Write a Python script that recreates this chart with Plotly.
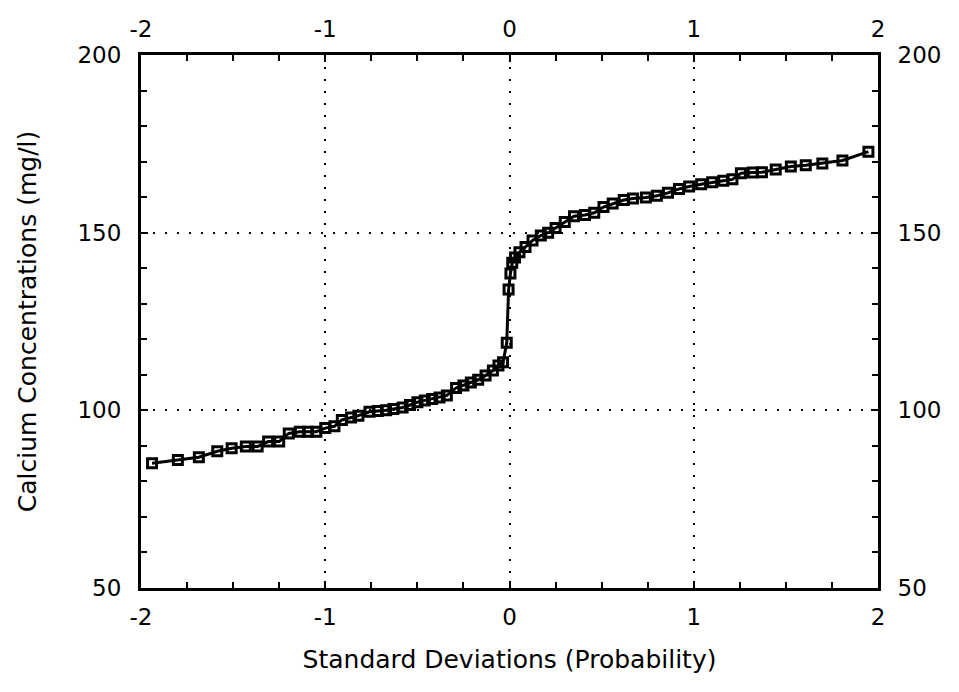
import plotly.graph_objects as go

std_dev = [-1.94, -1.80, -1.686, -1.586, -1.508, -1.431, -1.367, -1.31, -1.25, -1.198,
           -1.138, -1.093, -1.048, -1.0, -0.95, -0.91, -0.86, -0.82, -0.76, -0.715,
           -0.67, -0.63, -0.58, -0.54, -0.50, -0.46, -0.42, -0.38, -0.34, -0.29,
           -0.25, -0.21, -0.17, -0.13, -0.09, -0.06, -0.035, -0.015, -0.005, 0.005,
           0.015, 0.03, 0.054, 0.087, 0.125, 0.17, 0.21, 0.25, 0.30, 0.35,
           0.41, 0.46, 0.51, 0.56, 0.62, 0.67, 0.74, 0.80, 0.86, 0.92,
           0.975, 1.04, 1.10, 1.16, 1.21, 1.256, 1.32, 1.37, 1.445, 1.527,
           1.608, 1.698, 1.807, 1.948]
calcium = [85.1, 86.0, 86.8, 88.5, 89.3, 89.8, 89.8, 91.2, 91.2, 93.5,
           94.0, 94.0, 94.0, 95.0, 95.5, 97.3, 98.0, 98.5, 99.6, 99.8,
           100.0, 100.4, 100.8, 101.5, 102.3, 102.8, 103.2, 103.6, 104.2, 106.3,
           107.0, 107.8, 108.6, 109.8, 111.2, 112.6, 113.5, 119.0, 134.0, 138.5,
           141.5, 143.0, 144.5, 146.0, 147.8, 149.2, 150.0, 151.3, 153.0, 154.6,
           155.0, 155.6, 157.2, 158.2, 159.2, 159.6, 159.9, 160.4, 161.2, 162.3,
           163.0, 163.6, 164.2, 164.6, 165.0, 166.7, 166.9, 167.0, 167.8, 168.6,
           169.0, 169.5, 170.3, 172.8]

x_ticks = [-2, -1, 0, 1, 2]
y_ticks = [50, 100, 150, 200]

FONT = "DejaVu Sans"
fig = go.Figure()
fig.add_trace(go.Scatter(
    x=std_dev, y=calcium, mode="lines+markers",
    line=dict(color="black", width=3),
    marker=dict(symbol="square-open", size=9, color="black", line=dict(width=3)),
    showlegend=False))
# invisible trace for secondary axes
fig.add_trace(go.Scatter(x=[std_dev[0]], y=[calcium[0]], xaxis="x2", yaxis="y2",
                         mode="markers", marker=dict(opacity=0), showlegend=False,
                         hoverinfo="skip"))

common_x = dict(range=[-2, 2], tickvals=x_ticks, ticktext=[str(v) for v in x_ticks],
                ticks="inside", ticklen=7, tickwidth=2, tickcolor="black",
                minor=dict(ticks="inside", dtick=0.25, ticklen=6, tickwidth=2, tickcolor="black"),
                showline=True, linecolor="black", linewidth=3,
                ticklabelstandoff=6,
                tickfont=dict(family=FONT, size=23, color="black"), zeroline=False)
common_y = dict(range=[50, 200], tickvals=y_ticks, ticktext=[str(v) for v in y_ticks],
                ticks="inside", ticklen=7, tickwidth=2, tickcolor="black",
                minor=dict(ticks="inside", dtick=10, ticklen=6, tickwidth=2, tickcolor="black"),
                showline=True, linecolor="black", linewidth=3,
                ticklabelstandoff=12,
                tickfont=dict(family=FONT, size=23, color="black"), zeroline=False)

fig.update_layout(
    width=959, height=692,
    margin=dict(l=141, r=81, t=55, b=104),
    paper_bgcolor="white", plot_bgcolor="white",
    font=dict(family=FONT, color="black"),
    xaxis=dict(**common_x, side="bottom", showgrid=True, gridcolor="black", gridwidth=2,
               griddash="2px,10px",
               title=dict(text="Standard Deviations (Probability)",
                          font=dict(family=FONT, size=25, color="black"), standoff=22)),
    yaxis=dict(**common_y, side="left", showgrid=True, gridcolor="black", gridwidth=2,
               griddash="2px,10px",
               title=dict(text="Calcium Concentrations (mg/l)",
                          font=dict(family=FONT, size=25, color="black"), standoff=34)),
    xaxis2=dict(**common_x, side="top", overlaying="x", showgrid=False, anchor="y"),
    yaxis2=dict(**common_y, side="right", overlaying="y", showgrid=False, anchor="x"),
)

fig.write_html("out.html")
